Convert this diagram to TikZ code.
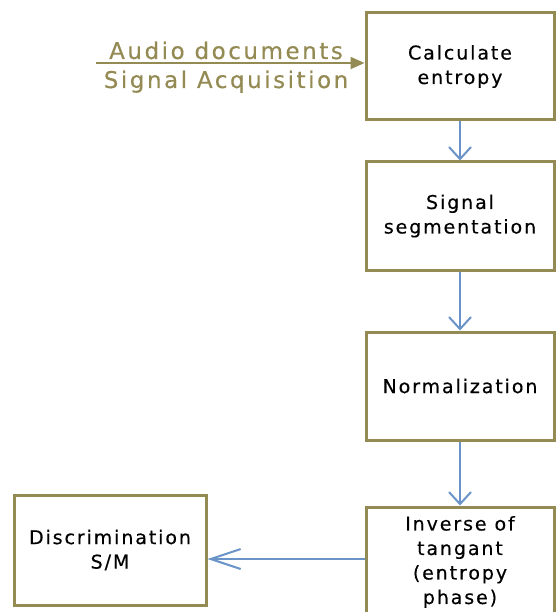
\documentclass[tikz,border=0pt]{standalone}
\usepackage{fontspec}
\setmainfont{DejaVu Sans}[LetterSpace=10,FakeBold=0.4]
\newfontfamily\labfont{DejaVu Sans}[LetterSpace=11,FakeBold=0.4]
\usetikzlibrary{arrows.meta}
\definecolor{olivebox}{HTML}{948A54}
\definecolor{arrblue}{HTML}{6A94C8}
\begin{document}
\begin{tikzpicture}[x=1pt,y=-1pt,
  box/.style={draw=olivebox, line width=3pt, minimum width=188pt, inner sep=0pt, align=center, font=\fontsize{19}{24.5}\selectfont, text=black},
  vflow/.style={draw=arrblue, line width=2pt, -{Straight Barb[length=12pt,width=22pt,line width=2pt]}},
  hflow/.style={draw=arrblue, line width=2pt, -{Straight Barb[length=30pt,width=20pt,line width=2pt]}},
  inflow/.style={draw=olivebox, line width=2pt, -{Triangle[length=14pt,width=12pt]}},
  inlabel/.style={text=olivebox, font=\labfont\fontsize{23}{26}\selectfont, anchor=base, inner sep=0pt}]
\useasboundingbox (0,0) rectangle (556,612);
\node[box, minimum height=107pt] (b1) at (460,66.5) {Calculate\\entropy};
\node[box, minimum height=108pt] (b2) at (460,216) {Signal\\segmentation};
\node[box, minimum height=108pt] (b3) at (460,386) {Normalization};
\node[box, minimum height=110pt] (b4) at (460,562) {Inverse of\\tangant\\(entropy\\phase)};
\node[box, minimum width=192pt, minimum height=110pt] (b5) at (110,550) {Discrimination\\S/M};
\coordinate (src) at (96,63);
\coordinate (hy) at (0,559);
\draw[inflow] (src) -- (src -| b1.west);
\node[inlabel] (la) at (226,59) {Audio documents};
\node[inlabel] (lb) at (226,88) {Signal Acquisition};
\draw[vflow] (b1) -- (b2);
\draw[vflow] (b2) -- (b3);
\draw[vflow] (b3) -- (b4);
\draw[hflow] (b4.west |- hy) -- (b5.east |- hy);
\end{tikzpicture}
\end{document}
